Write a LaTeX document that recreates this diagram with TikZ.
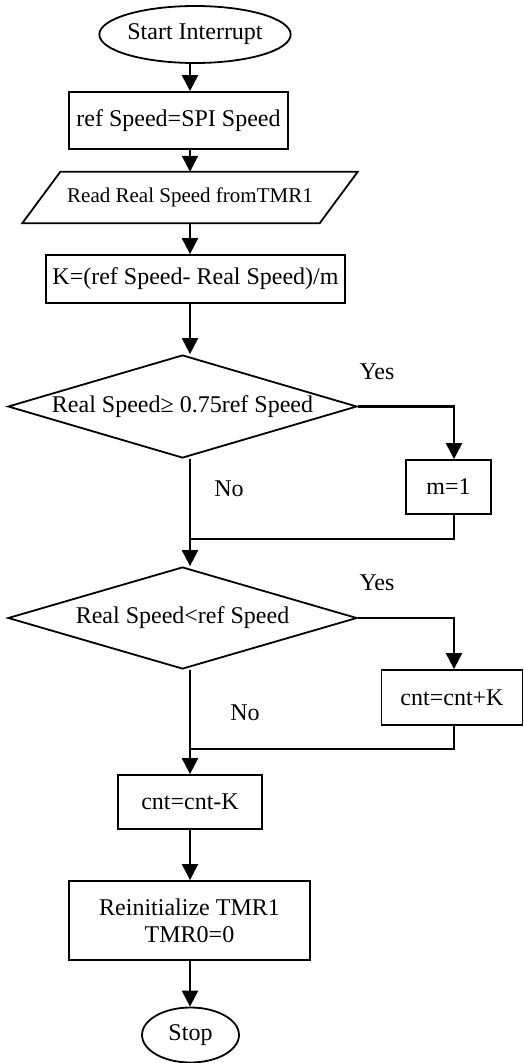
\documentclass[tikz,border=0pt]{standalone}
\usepackage{fontspec}
\setmainfont{Liberation Serif}
\usetikzlibrary{shapes.geometric,arrows.meta}
\begin{document}
\begin{tikzpicture}[x=1pt,y=-1pt,
  every node/.style={font=\fontsize{24}{27}\selectfont, inner sep=0pt},
  procbox/.style={draw, line width=1.8pt, rectangle},
  termbox/.style={draw, line width=1.8pt, ellipse},
  iobox/.style={rectangle},
  decbox/.style={draw, line width=1.8pt, diamond, shape aspect=3.39},
  flow/.style={line width=2.2pt, -{Triangle[width=16pt,length=16pt]}},
  plain/.style={line width=2.2pt},
  lbl/.style={font=\fontsize{24}{27}\selectfont}]
\useasboundingbox (0,0) rectangle (524,1063);
% columns of the main spine and of the side branches
\coordinate (spine) at (190,0);
\coordinate (rcol) at (454,0);

\node[termbox, minimum width=166pt, minimum height=57pt] (start) at (195,34.5) {Start Interrupt};
\node[procbox, minimum width=219pt, minimum height=57pt] (b1) at (178.5,120.5) {ref Speed=SPI Speed};
\node[iobox, minimum width=297pt, minimum height=51pt, font=\fontsize{21}{24}\selectfont] (rd) at (190,197.5) {Read Real Speed fromTMR1};
% input/output parallelogram around the text node
\draw[line width=1.8pt, line join=miter]
  ([xshift=19pt]rd.north west) -- ([xshift=19pt]rd.north east)
  -- ([xshift=-19pt]rd.south east) -- ([xshift=-19pt]rd.south west) -- cycle;
\node[procbox, minimum width=299pt, minimum height=48pt] (b3) at (195.5,279) {K=(ref Speed- Real Speed)/m};
\node[decbox, minimum width=349pt, minimum height=103pt] (d1) at (182.5,406.5) {Real Speed≥ 0.75ref Speed};
\node[procbox, minimum width=85pt, minimum height=54pt] (m1) at (448.5,487) {m=1};
\node[decbox, minimum width=349pt, minimum height=102pt] (d2) at (182.5,618) {Real Speed<ref Speed};
\node[procbox, minimum width=141pt, minimum height=55pt] (cp) at (452,697.5) {cnt=cnt+K};
\node[procbox, minimum width=144pt, minimum height=54pt] (cm) at (190,802) {cnt=cnt-K};
\node[procbox, minimum width=241pt, minimum height=79pt, align=center] (ri) at (189.5,920.5) {Reinitialize TMR1\\TMR0=0};
\node[termbox, minimum width=97pt, minimum height=55pt] (stop) at (190.5,1035) {Stop};

\node[lbl] (y1) at (377,372) {Yes};
\node[lbl] (n1) at (229,489) {No};
\node[lbl] (y2) at (377,583) {Yes};
\node[lbl] (n2) at (245,713) {No};

\coordinate (j1) at (190,539);
\coordinate (j2) at (190,749);

% main flow
\draw[flow] (start.south -| spine) -- (b1.north -| spine);
\draw[flow] (b1.south -| spine) -- (rd.north -| spine);
\draw[flow] (rd.south -| spine) -- (b3.north -| spine);
\draw[flow] (b3.south -| spine) -- (d1.north -| spine);
\draw[flow] (d1.south -| spine) -- (d2.north -| spine);
\draw[flow] (d2.south -| spine) -- (cm.north);
\draw[flow] (cm.south) -- (ri.north -| spine);
\draw[flow] (ri.south -| spine) -- (stop.north -| spine);

% yes branches and their returns
\draw[flow] (d1.east) -| (m1.north -| rcol);
\draw[plain] (m1.south -| rcol) |- (j1);
\draw[flow] (d2.east) -| (cp.north -| rcol);
\draw[plain] (cp.south -| rcol) |- (j2);
\end{tikzpicture}
\end{document}
